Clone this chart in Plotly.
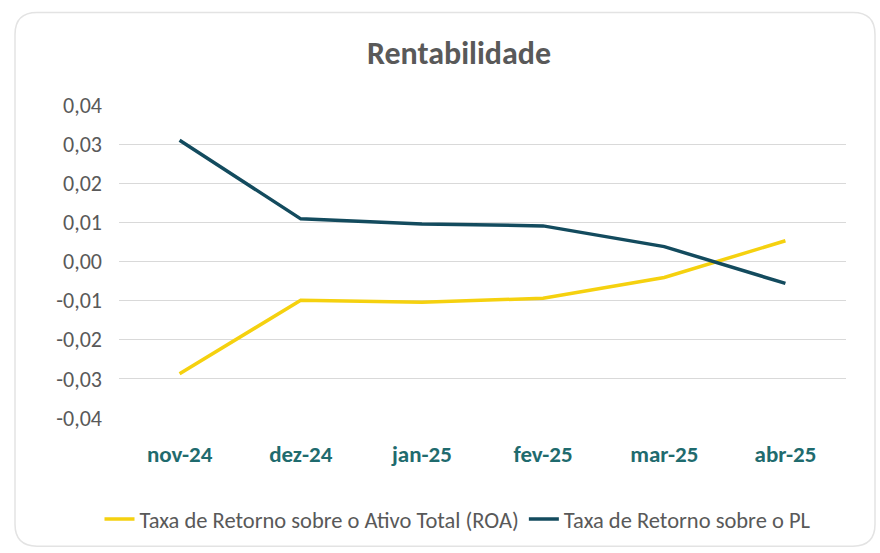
import plotly.graph_objects as go

categories = ["nov-24", "dez-24", "jan-25", "fev-25", "mar-25", "abr-25"]
roa_values = [-0.0287, -0.0099, -0.0104, -0.0094, -0.0041, 0.0053]
pl_values = [0.0310, 0.0109, 0.0096, 0.0091, 0.0038, -0.0056]
y_ticks = [-0.04, -0.03, -0.02, -0.01, 0.0, 0.01, 0.02, 0.03, 0.04]
y_tick_labels = ["-0,04", "-0,03", "-0,02", "-0,01", "0,00", "0,01", "0,02", "0,03", "0,04"]

roa_name = "Taxa de Retorno sobre o Ativo Total (ROA)"
pl_name = "Taxa de Retorno sobre o PL"

FONT = "Carlito, Lato, 'Open Sans', sans-serif"

fig = go.Figure()
fig.add_trace(go.Scatter(x=categories, y=roa_values, name=roa_name, mode="lines",
                         line=dict(color="#F5D10F", width=3.5)))
fig.add_trace(go.Scatter(x=categories, y=pl_values, name=pl_name, mode="lines",
                         line=dict(color="#134B5E", width=3.5)))

W, H = 880, 553
L, R, T, B = 119, 34, 105, 133
pw, ph = W - L - R, H - T - B

def px(x):
    return (x - L) / pw

def py(y):
    return (H - B - y) / ph

x0, x1, y0, y1 = px(15), px(875), py(549), py(12)
rx, ry = 22 / pw, 22 / ph
path = (f"M {x0+rx},{y1} L {x1-rx},{y1} Q {x1},{y1} {x1},{y1-ry} "
        f"L {x1},{y0+ry} Q {x1},{y0} {x1-rx},{y0} L {x0+rx},{y0} "
        f"Q {x0},{y0} {x0},{y0+ry} L {x0},{y1-ry} Q {x0},{y1} {x0+rx},{y1} Z")

fig.update_layout(
    width=W, height=H,
    margin=dict(l=L, r=R, t=T, b=B),
    paper_bgcolor="white", plot_bgcolor="white",
    font=dict(family=FONT, color="#595959", size=22),
    title=dict(text="<b>Rentabilidade</b>", x=px(459), xref="paper", xanchor="center",
               y=1 - 53 / H, yanchor="middle",
               font=dict(size=32, color="#595959", family=FONT)),
    showlegend=True,
    legend=dict(orientation="h", x=px(458), xanchor="center", y=py(522), yanchor="middle",
                font=dict(size=22.5, color="#595959", family=FONT), itemwidth=30,
                bgcolor="rgba(0,0,0,0)"),
    xaxis=dict(showgrid=False, showline=False, zeroline=False, ticks="",
               range=[-0.5, len(categories) - 0.5],
               tickfont=dict(size=23, color="#1F6B6E", family=FONT),
               tickprefix="<b>", ticksuffix="</b>",
               ticklabelstandoff=20),
    yaxis=dict(range=[-0.04, 0.04], tickvals=y_ticks, ticktext=y_tick_labels,
               showgrid=True, gridcolor="#D9D9D9", gridwidth=1,
               zeroline=False, showline=False, ticks="",
               tickfont=dict(size=22, color="#595959", family=FONT),
               ticklabelstandoff=16),
    shapes=[dict(type="path", xref="paper", yref="paper", path=path,
                 line=dict(color="#E3E3E3", width=1.5), fillcolor="rgba(0,0,0,0)", layer="below")],
)

fig.write_html("out.html", config={"displayModeBar": False},
               post_script="document.body.style.margin='0';")
